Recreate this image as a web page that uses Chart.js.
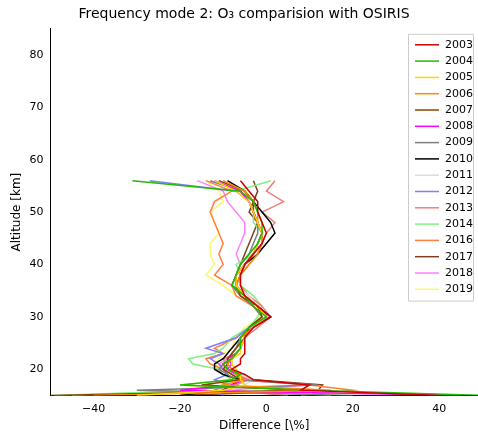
<!DOCTYPE html>
<html><head><meta charset="utf-8">
<script src="https://cdn.jsdelivr.net/npm/chart.js@4"></script>
<style>html,body{margin:0;padding:0;background:#fff}#w{width:478px;height:435px}</style>
</head><body><div id="w"><canvas id="c"></canvas></div>
<script>
const altitudes = [15,16,17,18,19,20,21,22,23,24,26,28,30,32,34,36,38,40,42,44,46,48,50,52,54,56];
const years = ['2003','2004','2005','2006','2007','2008','2009','2010','2011','2012','2013','2014','2016','2017','2018','2019'];
const colors = ['#cc0000','#22bb00','#ffd700','#ff8c00','#8b4500','#ff00ff','#808080','#000000','#dddddd','#7f7fff','#f08080','#80f080','#ff7f40','#7f3f1f','#ff80ff','#f8f870'];
const d2003 = [40,8,10,-3,-5,-8,-6,-6,-5,-5,-5,-3,1,-2,-5,-6,-6,-5,-3,-1,0,-1,-2,-2,-4,-6];
const d2004 = [50,10,-20,-8,-6,-9,-10,-8,-7,-6,-6,-4,0,-3,-5,-8,-7,-6,-4,-2,-1,-1,-2,-3,-6,-31];
const d2005 = [-30,-10,-5,-6,-6,-7,-8,-8,-6,-6,-5,-3,0,-2,-5,-7,-7,-5,-3,-2,-1,-2,-3,-4,-7,-12];
const d2006 = [-40,15,-10,-5,-7,-8,-9,-8,-7,-6,-6,-3,0,-2,-5,-7,-6,-4,-2,-1,-1,-2,-2,-3,-5,-10];
const d2007 = [-50,8,-15,-6,-8,-10,-9,-9,-8,-7,-5,-4,-1,-2,-6,-7,-6,-5,-3,-2,-1,-2,-3,-3,-5,-11];
const d2008 = [45,-20,-8,-5,-7,-9,-8,-9,-7,-6,-5,-3,0,-2,-5,-7,-7,-5,-3,-2,-1,-2,-3,-4,-6,-12];
const d2009 = [20,-30,12,-7,-9,-11,-10,-8,-8,-7,-6,-4,-1,-3,-6,-8,-7,-6,-4,-3,-2,-2,-3,-4,-6,-13];
const d2010 = [-20,-10,-8,-6,-10,-12,-12,-10,-9,-8,-6,-3,1,-2,-5,-7,-7,-5,-2,0,2,1,-1,-3,-5,-9];
const d2011 = [-30,-8,-5,-3,-6,-9,-8,-8,-7,-6,-5,-3,0,-2,-4,-7,-6,-5,-2,-1,0,-1,-2,-3,-5,-10];
const d2012 = [-10,-12,-9,-12,-9,-10,-11,-13,-10,-14,-7,-4,0,-2,-5,-7,-6,-5,-3,-1,-1,-2,-3,-4,-7,-27];
const d2013 = [5,-10,-7,-4,-7,-9,-9,-10,-7,-6,-5,-2,1,-1,-4,-6,-6,-4,-2,-1,0,2,-1,4,0,2];
const d2014 = [-49,-15,-10,-8,-10,-11,-17,-18,-12,-10,-8,-4,-2,-1,-3,-6,-6,-7,-3,-2,-1,-3,-3,-4,-7,1];
const d2016 = [8,20,10,-6,-8,-10,-13,-14,-10,-12,-7,-4,-1,-3,-7,-8,-12,-10,-11,-10,-11,-12,-13,-12,-8,-14];
const d2017 = [-20,12,13,-3,-6,-9,-10,-8,-7,-6,-6,-3,0,-2,-5,-8,-7,-6,-5,-4,-3,-2,-4,-3,-2,-3];
const d2018 = [15,-10,10,-6,-7,-9,-11,-9,-8,-7,-6,-4,0,-2,-5,-7,-7,-6,-7,-6,-5,-5,-7,-9,-10,-16];
const d2019 = [-45,-5,-20,-8,-9,-10,-12,-11,-10,-8,-7,-5,-1,-3,-7,-10,-14,-12,-13,-13,-11,-12,-13,-10,-11,-14];
const allData = [d2003,d2004,d2005,d2006,d2007,d2008,d2009,d2010,d2011,d2012,d2013,d2014,d2016,d2017,d2018,d2019];

const datasets = years.map((y,i)=>({
  label:y, borderColor:colors[i], backgroundColor:colors[i], showLine:true, pointRadius:0,
  borderWidth:1.5, tension:0, fill:false,
  data: allData[i].map((v,j)=>({x:v,y:altitudes[j]}))
}));

const legendPlugin = {
  id:'mplLegend',
  afterDraw(chart){
    const ctx=chart.ctx, a=chart.chartArea;
    const x0=a.right-70, y0=a.top+5, w=65, rowH=16.3, h=rowH*years.length+6;
    ctx.save();
    ctx.fillStyle='rgba(255,255,255,0.85)'; ctx.strokeStyle='#cccccc'; ctx.lineWidth=1;
    ctx.beginPath(); ctx.rect(x0+0.5,y0+0.5,w,h); ctx.fill(); ctx.stroke();
    ctx.font='11px "DejaVu Sans"'; ctx.textBaseline='middle'; ctx.fillStyle='#000';
    years.forEach((y,i)=>{
      const cy=y0+11+i*rowH;
      ctx.strokeStyle=colors[i]; ctx.lineWidth=1.5;
      ctx.beginPath(); ctx.moveTo(x0+7,cy); ctx.lineTo(x0+31,cy); ctx.stroke();
      ctx.fillText(y,x0+37,cy);
    });
    ctx.restore();
  }
};

new Chart(document.getElementById('c'),{
  type:'scatter',
  data:{datasets},
  options:{
    responsive:true, maintainAspectRatio:false, animation:false,
    layout:{padding:{left:10,right:0,top:4,bottom:2}},
    plugins:{
      legend:{display:false}, tooltip:{enabled:false},
      title:{display:true, text:'Frequency mode 2: O₃ comparision with OSIRIS', color:'#000', font:{family:'DejaVu Sans',size:14,weight:'normal'}, padding:{top:2,bottom:6}}
    },
    scales:{
      x:{min:-50,max:49, grid:{display:false,drawTicks:true,tickLength:4,tickColor:'#000'}, border:{color:'#000'},
         ticks:{color:'#000',font:{family:'DejaVu Sans',size:11},
           callback:v=>(v<0?'\u2212'+(-v):String(v))},
         afterBuildTicks:s=>{s.ticks=[-40,-20,0,20,40].map(v=>({value:v}));},
         title:{display:true,text:'Difference [\\%]',color:'#000',font:{family:'DejaVu Sans',size:12},padding:{top:0,bottom:0}}},
      y:{min:15,max:85, grid:{display:false,tickLength:4,tickColor:'#000'}, border:{color:'#000'},
         afterBuildTicks:s=>{s.ticks=[20,30,40,50,60,70,80].map(v=>({value:v}));},
         ticks:{color:'#000',font:{family:'DejaVu Sans',size:11}},
         title:{display:true,text:'Altitude [km]',color:'#000',font:{family:'DejaVu Sans',size:12},padding:{top:0,bottom:2}}}
    }
  },
  plugins:[legendPlugin]
});
</script></body></html>
